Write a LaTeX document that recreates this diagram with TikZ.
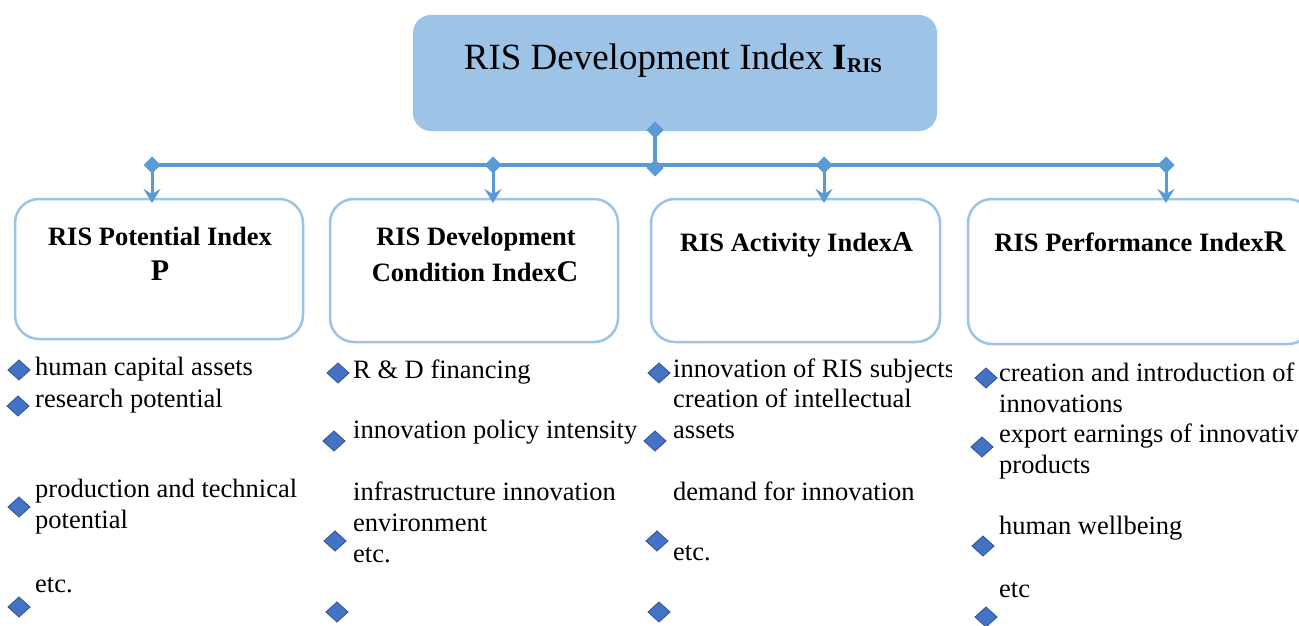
\documentclass[tikz,border=0pt]{standalone}
\usepackage{fontspec}
\setmainfont{Liberation Serif}
\usetikzlibrary{arrows.meta,shapes.geometric}
\definecolor{boxfill}{RGB}{157,195,230}
\definecolor{boxline}{RGB}{157,195,230}
\definecolor{linkblue}{RGB}{91,155,213}
\definecolor{bulletfill}{RGB}{68,114,196}
\definecolor{bulletline}{RGB}{47,82,143}
\begin{document}
\begin{tikzpicture}[x=1pt,y=-1pt,
  mainbox/.style={draw=none, fill=boxfill, rounded corners=18pt, inner sep=0pt},
  childbox/.style={draw=boxline, line width=2.5pt, fill=white, rounded corners=24pt, inner sep=0pt},
  headtext/.style={anchor=base, font=\fontsize{26.5}{30}\selectfont\bfseries, inner sep=0pt},
  item/.style={anchor=base west, font=\fontsize{26.5}{31}\selectfont, inner sep=0pt},
  bullet/.style={shape=diamond, fill=bulletfill, draw=bulletline, line width=0.8pt, minimum width=22pt, minimum height=20pt, inner sep=0pt, outer sep=0pt},
  joint/.style={shape=diamond, fill=linkblue, minimum width=17pt, minimum height=17pt, inner sep=0pt, outer sep=0pt},
  link/.style={draw=linkblue, line width=3.5pt},
  feed/.style={draw=linkblue, line width=3pt, -{Stealth[length=14pt,width=17pt,inset=5pt]}},
]
% canvas
\fill[white] (0,0) rectangle (1299,626);
\clip (0,0) rectangle (1299,626);

% top box
\node[mainbox, minimum width=524pt, minimum height=116pt] (main) at (675,73) {};
\node[anchor=base, font=\fontsize{37}{40}\selectfont, inner sep=0pt] (title) at (673,70)
  {RIS Development Index \textbf{I}\raisebox{-3pt}{\fontsize{21}{21}\selectfont\bfseries RIS}};

% sub-index boxes
\node[childbox, minimum width=288pt, minimum height=140pt] (pbox) at (159,269) {};
\node[childbox, minimum width=288pt, minimum height=143pt] (cbox) at (474,270.5) {};
\node[childbox, minimum width=289pt, minimum height=143pt] (abox) at (795.5,270.5) {};
\node[childbox, minimum width=344pt, minimum height=145pt] (rbox) at (1140,271.5) {};

% headings
\node[headtext] (ph1) at (160,245) {RIS Potential Index};
\node[headtext, font=\fontsize{30}{30}\selectfont\bfseries] (ph2) at (160,280) {P};
\node[headtext] (ch1) at (476,245) {RIS Development};
\node[headtext] (ch2) at (475,281) {Condition Index{\fontsize{30}{30}\selectfont C}};
\node[headtext] (ah1) at (796.5,251) {RIS Activity Index{\fontsize{29}{29}\selectfont A}};
\node[headtext] (rh1) at (1140,251) {RIS Performance Index{\fontsize{30}{30}\selectfont R}};

% connectors
\node[joint] (s0) at (655,130) {};
\node[joint] (s1) at (655,168) {};
\node[joint] (d1) at (152,165) {};
\node[joint] (d2) at (493,165) {};
\node[joint] (d3) at (824,165) {};
\node[joint] (d4) at (1166,165) {};
\coordinate (t1) at (152,203);
\coordinate (t2) at (493,203);
\coordinate (t3) at (824,203);
\coordinate (t4) at (1166,203);
\draw[link] (s0.center) -- (s1.center);
\draw[link, line width=4pt] (d1.center) -- (d4.center);
\draw[feed] (d1.center) -- (t1);
\draw[feed] (d2.center) -- (t2);
\draw[feed] (d3.center) -- (t3);
\draw[feed] (d4.center) -- (t4);

% column P
\node[bullet] (pb1) at (19,370) {};
\node[bullet] (pb2) at (18,406) {};
\node[bullet] (pb3) at (19,507) {};
\node[bullet] (pb4) at (19,607) {};
\node[item] (pi1) at (35,375) {human capital assets};
\node[item] (pi2) at (35,407) {research potential};
\node[item] (pi3) at (35,497) {production and technical};
\node[item] (pi4) at (35,528) {potential};
\node[item] (pi5) at (35,592) {etc.};

% column C
\node[bullet] (cb1) at (338,373) {};
\node[bullet] (cb2) at (334,441) {};
\node[bullet] (cb3) at (335,541) {};
\node[bullet] (cb4) at (337,612) {};
\node[item] (ci1) at (353,378) {R \& D financing};
\node[item] (ci2) at (353,438) {innovation policy intensity};
\node[item] (ci3) at (353,500) {infrastructure innovation};
\node[item] (ci4) at (353,531) {environment};
\node[item] (ci5) at (353,562) {etc.};

% column A
\node[bullet] (ab1) at (659,373) {};
\node[bullet] (ab2) at (655,441) {};
\node[bullet] (ab3) at (657,541) {};
\node[bullet] (ab4) at (659,612) {};
\begin{scope}
  \clip (640,340) rectangle (951,390);
  \node[item] (ai1) at (673,377) {innovation of RIS subjects};
\end{scope}
\node[item] (ai2) at (673,407) {creation of intellectual};
\node[item] (ai3) at (673,438) {assets};
\node[item] (ai4) at (673,500) {demand for innovation};
\node[item] (ai5) at (673,560) {etc.};

% column R
\node[bullet] (rb1) at (986,378) {};
\node[bullet] (rb2) at (982,447) {};
\node[bullet] (rb3) at (983,546) {};
\node[bullet] (rb4) at (986,617) {};
\node[item] (ri1) at (999,381) {creation and introduction of};
\node[item] (ri2) at (999,412) {innovations};
\node[item] (ri3) at (999,442) {export earnings of innovative};
\node[item] (ri4) at (999,473) {products};
\node[item] (ri5) at (999,534) {human wellbeing};
\node[item] (ri6) at (999,597) {etc};
\end{tikzpicture}
\end{document}
